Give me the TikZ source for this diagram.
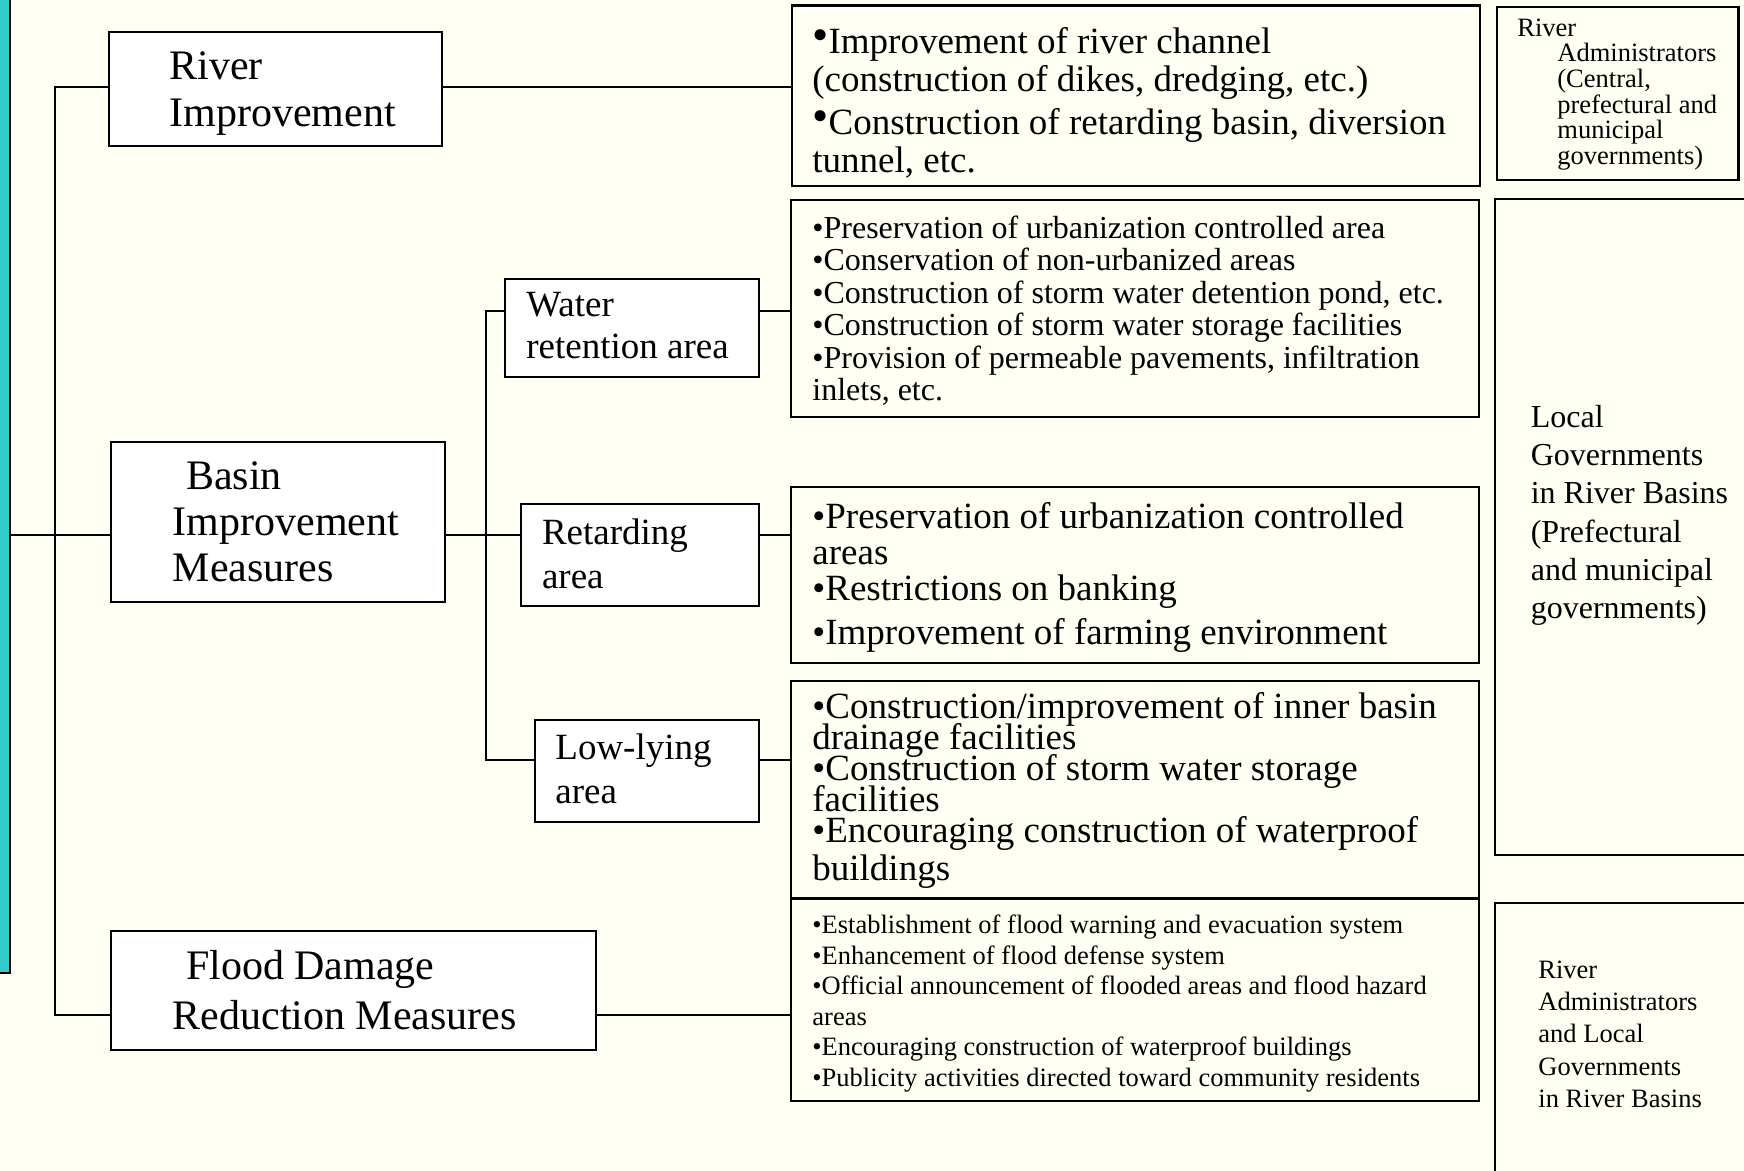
\documentclass[tikz,border=0pt]{standalone}
\usepackage{fontspec}
\usepackage{graphicx}
\setmainfont{Liberation Serif}
\usetikzlibrary{fit}
\definecolor{bgcream}{HTML}{FFFFF4}
\definecolor{tealbar}{HTML}{33CCCC}
\newcommand\bigbul{\raisebox{0.08em}{\scalebox{1.25}{•}}}
\newcommand\fsz[2]{\fontsize{#1}{#2}\selectfont\lineskiplimit=-50pt\relax}
\tikzset{
  box/.style={draw=black, line width=1pt, inner sep=0pt, fill=white},
  cbox/.style={draw=black, line width=1.1pt, inner sep=0pt},
  txt/.style={anchor=north west, inner sep=0pt, align=left},
  conn/.style={draw=black, line width=1pt},
}
\begin{document}
\begin{tikzpicture}[x=0.5pt, y=-0.5pt]
\useasboundingbox (0,0) rectangle (1744,1171);
\fill[bgcream] (0,0) rectangle (1744,1171);

% teal side bar
\node[fit={(-6,-6) (9.5,973)}, inner sep=0pt, fill=tealbar, draw=black, line width=1pt] (teal) {};

% left boxes
\node[box, fit={(109,32) (441.5,146)}] (river) {};
\node[box, fit={(111,441.5) (445,602)}] (basin) {};
\node[box, fit={(111,931) (596,1050)}] (flood) {};
\node[box, fit={(505,279) (758.5,377)}] (water) {};
\node[box, fit={(520.5,504) (758.5,606)}] (retard) {};
\node[box, fit={(535,719.6) (758.5,822)}] (low) {};

% content boxes
\node[cbox, fit={(792,5.5) (1480,186)}] (c1) {};
\node[cbox, fit={(791,200) (1479,417)}] (c2) {};
\node[cbox, fit={(791,487) (1479,663)}] (c3) {};
\node[cbox, fit={(791,681) (1479,898)}] (c4) {};
\node[cbox, fit={(791,899) (1479,1101)}] (c5) {};

% right column boxes
\node[cbox, fit={(1497,6.7) (1738.5,180)}] (r1) {};
\node[cbox, fit={(1495,199) (1770,855)}] (r2) {};
\node[cbox, fit={(1495,903) (1770,1200)}] (r3) {};

% junction coordinates
\coordinate (j1) at (54.5,86.8);
\coordinate (j2) at (54.5,535);
\coordinate (j3) at (54.5,1015.4);
\coordinate (k1) at (486,311.4);
\coordinate (k2) at (486,535);
\coordinate (k3) at (486,759.6);

% connectors
\draw[conn] (river.west |- j1) -- (j1) -- (j3) -- (flood.west |- j3);
\draw[conn] (teal.east |- j2) -- (basin.west |- j2);
\draw[conn] (river.east |- j1) -- (c1.west |- j1);
\draw[conn] (basin.east |- k2) -- (retard.west |- k2);
\draw[conn] (water.west |- k1) -- (k1) -- (k3) -- (low.west |- k3);
\draw[conn] (water.east |- k1) -- (c2.west |- k1);
\draw[conn] (retard.east |- k2) -- (c3.west |- k2);
\draw[conn] (low.east |- k3) -- (c4.west |- k3);
\draw[conn] (flood.east |- j3) -- (c5.west |- j3);

% texts
\node[txt, font=\fsz{21pt}{23.35pt}] (triver) at (169,51.6) {River\\Improvement};
\node[txt, font=\fsz{21pt}{23.1pt}] (tbasin) at (172.4,461) {\hspace*{6.6pt}Basin\\Improvement\\Measures};
\node[txt, font=\fsz{21pt}{25pt}] (tflood) at (172.4,950.3) {\hspace*{6.6pt}Flood Damage\\Reduction Measures};
\node[txt, font=\fsz{18.5pt}{21.15pt}] (twater) at (526,291.4) {Water\\retention area};
\node[txt, font=\fsz{18.5pt}{22.25pt}] (tretard) at (541.6,518.3) {Retarding\\area};
\node[txt, font=\fsz{18.5pt}{22.25pt}] (tlow) at (555,733) {Low-lying\\area};

\node[txt, font=\fsz{18.5pt}{19pt}] (tc1) at (812,26.7)
 {\bigbul Improvement of river channel\\(construction of dikes, dredging, etc.)\\[2.7pt]\bigbul Construction of retarding basin, diversion\\tunnel, etc.};
\node[txt, font=\fsz{16pt}{16.25pt}] (tc2) at (812,215.4)
 {•Preservation of urbanization controlled area\\•Conservation of non-urbanized areas\\•Construction of storm water detention pond, etc.\\•Construction of storm water storage facilities\\•Provision of permeable pavements, infiltration\\inlets, etc.};
\node[txt, font=\fsz{18.5pt}{18pt}] (tc3) at (812,501.7)
 {•Preservation of urbanization controlled\\areas\\•Restrictions on banking\\[4.25pt]•Improvement of farming environment};
\node[txt, font=\fsz{18.5pt}{15.55pt}] (tc4) at (812,691.8)
 {•Construction/improvement of inner basin\\drainage facilities\\•Construction of storm water storage\\facilities\\•Encouraging construction of waterproof\\[3.35pt]buildings};
\node[txt, font=\fsz{13.25pt}{15.25pt}] (tc5) at (812,914.7)
 {•Establishment of flood warning and evacuation system\\•Enhancement of flood defense system\\•Official announcement of flooded areas and flood hazard\\areas\\•Encouraging construction of waterproof buildings\\•Publicity activities directed toward community residents};

\node[txt, font=\fsz{13.25pt}{12.8pt}] (tr1) at (1517,18.3)
 {River\\\hspace*{20pt}Administrators\\\hspace*{20pt}(Central,\\\hspace*{20pt}prefectural and\\\hspace*{20pt}municipal\\\hspace*{20pt}governments)};
\node[txt, font=\fsz{16pt}{19.15pt}] (tr2) at (1530.4,404.5)
 {Local\\Governments\\in River Basins\\(Prefectural\\and municipal\\governments)};
\node[txt, font=\fsz{13.25pt}{16.15pt}] (tr3) at (1538,960.3)
 {River\\Administrators\\and Local\\Governments\\in River Basins};
\end{tikzpicture}
\end{document}
